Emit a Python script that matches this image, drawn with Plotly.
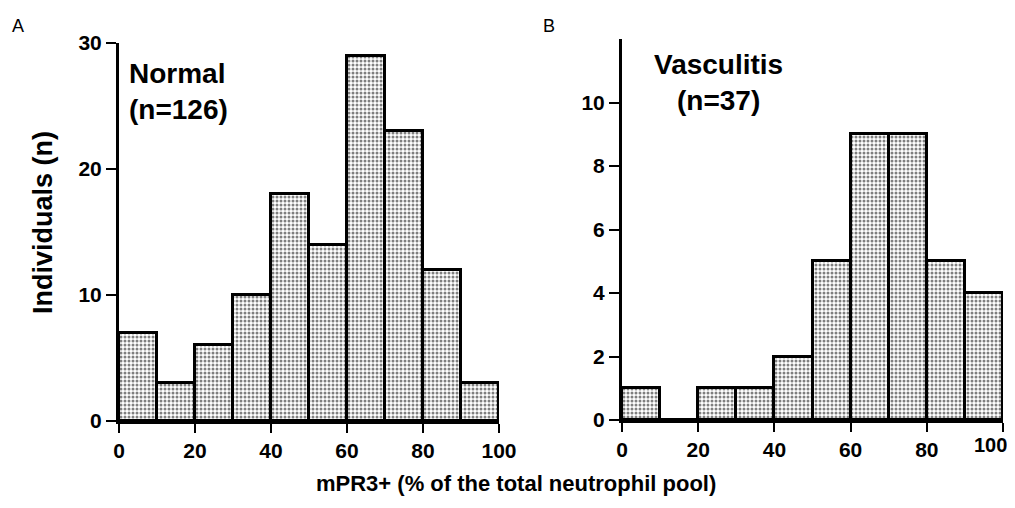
import plotly.graph_objects as go

bin_starts = [0, 10, 20, 30, 40, 50, 60, 70, 80, 90]
normal_counts = [7, 3, 6, 10, 18, 14, 29, 23, 12, 3]
vasculitis_counts = [1, 0, 1, 1, 2, 5, 9, 9, 5, 4]
x_ticks = [0, 20, 40, 60, 80, 100]
x_ticktext_a = ["0", "20", "40", "60", "80", "100"]
x_ticktext_b = ["0", "20", "40", "60", "80", ""]   # last label drawn below, nudged left
y_ticks_a = [0, 10, 20, 30]
y_ticks_b = [0, 2, 4, 6, 8, 10]

W, H = 1000, 488
OFF = 8  # page body margin
FONT = "Liberation Sans, Arial, Helvetica, sans-serif"

def px_x(p):
    return (p - OFF) / W

def px_y(p):
    return 1 - (p - OFF) / H

pattern = dict(shape=".", fgcolor="black", bgcolor="white", size=4, solidity=0.45)

fig = go.Figure()
fig.add_trace(go.Bar(
    x=bin_starts, y=normal_counts, width=[10] * len(bin_starts), offset=0,
    marker=dict(color="white", pattern=pattern, line=dict(color="black", width=3)),
    xaxis="x", yaxis="y", showlegend=False, hoverinfo="skip"))
fig.add_trace(go.Bar(
    x=bin_starts, y=vasculitis_counts, width=[10] * len(bin_starts), offset=0,
    marker=dict(color="white", pattern=pattern, line=dict(color="black", width=3)),
    xaxis="x2", yaxis="y2", showlegend=False, hoverinfo="skip"))

tickfont = dict(family=FONT, size=21, color="black", weight="bold")
common_x = dict(range=[0, 100], tickvals=x_ticks, ticks="outside", ticklen=9, tickwidth=2,
                tickcolor="black", showline=True, linecolor="black", linewidth=3,
                showgrid=False, zeroline=False, tickfont=tickfont, fixedrange=True,
                automargin=False, ticklabeloverflow="allow")
common_y = dict(ticks="outside", ticklen=10, tickwidth=2, tickcolor="black", showline=True,
                linecolor="black", linewidth=3, showgrid=False, zeroline=False,
                tickfont=tickfont, fixedrange=True, automargin=False)

fig.update_layout(
    width=W, height=H,
    margin=dict(l=0, r=0, t=0, b=0, autoexpand=False),
    paper_bgcolor="white", plot_bgcolor="white",
    bargap=0,
    xaxis=dict(domain=[px_x(119), px_x(499)], anchor="y", ticktext=x_ticktext_a, **common_x),
    yaxis=dict(domain=[px_y(421), px_y(43)], range=[0, 30], tickvals=y_ticks_a,
               anchor="x", **common_y),
    xaxis2=dict(domain=[px_x(622), px_x(1003)], anchor="y2", ticktext=x_ticktext_b, **common_x),
    yaxis2=dict(domain=[px_y(420), px_y(39)], range=[0, 12], tickvals=y_ticks_b,
                anchor="x2", **common_y),
    annotations=[
        dict(text=x_ticktext_a[-1], x=x_ticks[-1], xref="x2", xshift=-13,
             y=px_y(445), yref="paper", xanchor="center", yanchor="middle",
             showarrow=False, font=dict(family=FONT, size=20, color="black", weight="bold")),
        dict(text="A", x=px_x(10), y=px_y(26), xref="paper", yref="paper",
             xanchor="left", yanchor="middle", showarrow=False,
             font=dict(family=FONT, size=18, color="black")),
        dict(text="B", x=px_x(541), y=px_y(26), xref="paper", yref="paper",
             xanchor="left", yanchor="middle", showarrow=False,
             font=dict(family=FONT, size=18, color="black")),
        dict(text="<b>Normal</b><br><b>(n=126)</b>", x=px_x(127), y=px_y(56),
             xref="paper", yref="paper", xanchor="left", yanchor="top", align="left",
             showarrow=False, font=dict(family=FONT, size=28, color="black")),
        dict(text="<b>Vasculitis</b><br><b>(n=37)</b>", x=px_x(718), y=px_y(47),
             xref="paper", yref="paper", xanchor="center", yanchor="top", align="center",
             showarrow=False, font=dict(family=FONT, size=28, color="black")),
        dict(text="<b>Individuals (n)</b>", x=px_x(43), y=px_y(223), xref="paper",
             yref="paper", xanchor="center", yanchor="middle", textangle=-90,
             showarrow=False, font=dict(family=FONT, size=27, color="black")),
        dict(text="<b>mPR3+ (% of the total neutrophil pool)</b>", x=px_x(516),
             y=px_y(483), xref="paper", yref="paper", xanchor="center", yanchor="middle",
             showarrow=False, font=dict(family=FONT, size=22, color="black")),
    ],
)

fig.write_html("out.html")
